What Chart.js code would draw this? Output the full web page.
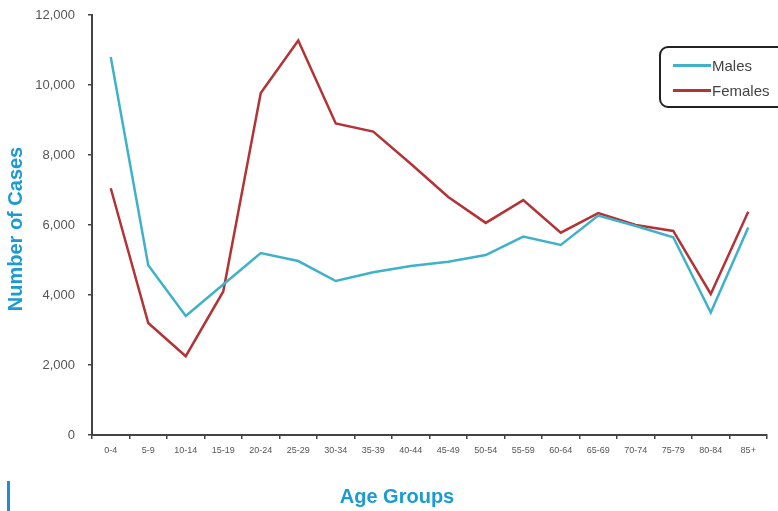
<!DOCTYPE html>
<html>
<head>
<meta charset="utf-8">
<script src="https://cdn.jsdelivr.net/npm/chart.js@4"></script>
<style>
  body { margin: 0; background: #fff; }
  #wrap { position: relative; width: 778px; height: 511px; }
  #legend {
    position: absolute; left: 659px; top: 46px; width: 130px; height: 62px;
    border: 2px solid #222; border-radius: 9px; box-sizing: border-box;
    font-family: "Liberation Sans", Arial, sans-serif; font-size: 15px; color: #444;
    padding: 5px 0 0 12px;
  }
  .row { display: flex; align-items: center; height: 25px; }
  .sw { width: 38px; height: 2.5px; margin-right: 1px; }
  #bar { position: absolute; left: 7px; top: 481px; width: 3px; height: 30px; background: #1b8fcf; }
</style>
</head>
<body>
<div id="wrap">
  <canvas id="chart" width="778" height="511"></canvas>
  <div id="legend">
    <div class="row"><span class="sw" style="background:#3fb2c9"></span>Males</div>
    <div class="row"><span class="sw" style="background:#b23436"></span>Females</div>
  </div>
  <div id="bar"></div>
</div>
<script>
// Age group case counts
const ageGroups = ['0-4', '5-9', '10-14', '15-19', '20-24', '25-29', '30-34', '35-39', '40-44',
  '45-49', '50-54', '55-59', '60-64', '65-69', '70-74', '75-79', '80-84', '85+'];
const males = [10800, 4850, 3400, 4300, 5200, 4970, 4400, 4650, 4830, 4950, 5140, 5670, 5430, 6270, 5970, 5650, 3500, 5930];
const females = [7050, 3200, 2250, 4100, 9770, 11270, 8900, 8670, 7750, 6800, 6060, 6710, 5780, 6340, 6000, 5830, 4030, 6380];
const yTicks = [0, 2000, 4000, 6000, 8000, 10000, 12000];

const font = "'Liberation Sans', Arial, sans-serif";

// Axis titles drawn at fixed spots like the original slide
const titlesPlugin = {
  id: 'titles',
  afterDraw(chart) {
    const ctx = chart.ctx;
    ctx.save();
    ctx.fillStyle = '#1b9ad3';
    ctx.font = 'bold 20px ' + font;
    ctx.textAlign = 'center';
    ctx.textBaseline = 'middle';
    ctx.fillText('Age Groups', 397, 497);
    ctx.translate(16, 229);
    ctx.rotate(-Math.PI / 2);
    ctx.fillText('Number of Cases', 0, 0);
    ctx.restore();
  }
};

new Chart(document.getElementById('chart'), {
  type: 'line',
  data: {
    labels: ageGroups,
    datasets: [
      { label: 'Males', data: males, borderColor: '#3fb2c9', borderWidth: 2.5, pointRadius: 0, tension: 0 },
      { label: 'Females', data: females, borderColor: '#b23436', borderWidth: 2.5, pointRadius: 0, tension: 0 }
    ]
  },
  options: {
    responsive: false,
    animation: false,
    layout: { padding: { top: 15, right: 11, left: 0, bottom: 0 } },
    plugins: { legend: { display: false }, tooltip: { enabled: false } },
    scales: {
      x: {
        offset: true,
        grid: { offset: true, drawOnChartArea: false, drawTicks: true, tickLength: 4, color: '#444', lineWidth: 1.5 },
        border: { display: true, color: '#444', width: 2 },
        ticks: { color: '#555', font: { family: font, size: 9 }, padding: 6, maxRotation: 0, autoSkip: false },
        afterFit(s) { s.height = 76; }
      },
      y: {
        min: 0, max: 12000,
        afterBuildTicks(s) { s.ticks = yTicks.map(v => ({ value: v })); },
        grid: { drawOnChartArea: false, drawTicks: true, tickLength: 4, color: '#444', lineWidth: 1.5 },
        border: { display: true, color: '#444', width: 2 },
        ticks: { color: '#555', font: { family: font, size: 13 }, padding: 13,
          callback: v => v.toLocaleString('en-US') },
        afterFit(s) { s.width = 92; s.paddingTop = 0; s.paddingBottom = 0; }
      }
    }
  },
  plugins: [titlesPlugin]
});
</script>
</body>
</html>
